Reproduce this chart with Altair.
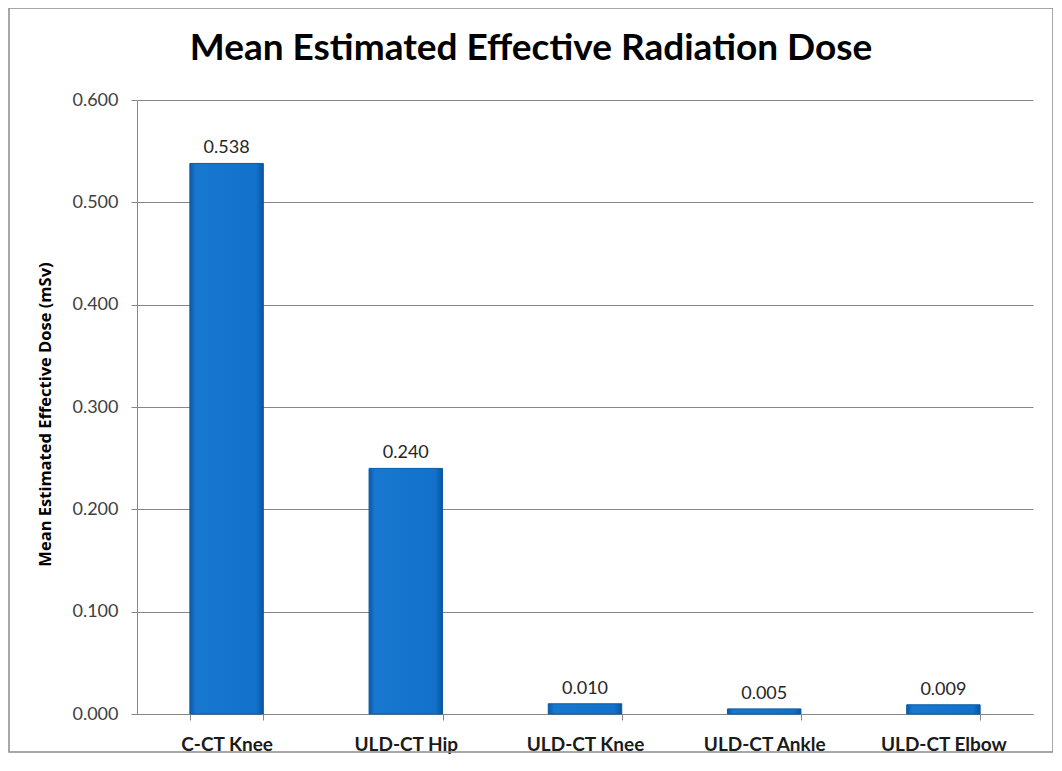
import altair as alt
import pandas as pd

categories = ["C-CT Knee", "ULD-CT Hip", "ULD-CT Knee", "ULD-CT Ankle", "ULD-CT Elbow"]
values = [0.538, 0.240, 0.010, 0.005, 0.009]
y_ticks = [0.0, 0.1, 0.2, 0.3, 0.4, 0.5, 0.6]
title_text = "Mean Estimated Effective Radiation Dose"

df = pd.DataFrame({"cat": categories, "val": values})

FONT = "Lato"

x_enc = alt.X(
    "cat:N",
    sort=categories,
    title=None,
    scale=alt.Scale(paddingInner=0.59, paddingOuter=0.295),
    axis=alt.Axis(
        labelAngle=0,
        labelFont=FONT,
        labelFontSize=19,
        labelFontWeight="bold",
        labelColor="#1a1a1a",
        labelPadding=15,
        tickBand="extent",
        tickSize=6,
        tickColor="#868686",
        domainColor="#868686",
        grid=False,
    ),
)

y_enc = alt.Y(
    "val:Q",
    title="Mean Estimated Effective Dose (mSv)",
    scale=alt.Scale(domain=[0, 0.6], nice=False),
    axis=alt.Axis(
        values=y_ticks,
        format=".3f",
        labelFont=FONT,
        labelFontSize=18,
        labelColor="#404040",
        labelPadding=13,
        tickSize=6,
        tickColor="#868686",
        domainColor="#868686",
        gridColor="#868686",
        gridWidth=1,
        titleFont="Open Sans",
        titleFontSize=16.5,
        titleFontWeight="bold",
        titleColor="#000000",
        titleX=-92,
        titleY=314,
        titleAngle=-90,
        titleBaseline="middle",
        titleAlign="center",
    ),
)

grad = alt.Gradient(
    gradient="linear",
    x1=0, x2=1, y1=0, y2=0,
    stops=[
        alt.GradientStop(color="#0a5aa8", offset=0),
        alt.GradientStop(color="#1878d0", offset=0.08),
        alt.GradientStop(color="#1272cb", offset=0.9),
        alt.GradientStop(color="#0a55a0", offset=1),
    ],
)

bars = alt.Chart(df).mark_bar(color=grad, stroke="#0b5aa5", strokeWidth=1).encode(
    x=x_enc, y=y_enc
)

labels = alt.Chart(df).mark_text(
    font=FONT, fontSize=18, color="#262626", dy=-15, baseline="middle"
).encode(
    x=alt.X("cat:N", sort=categories),
    y="val:Q",
    text=alt.Text("val:Q", format=".3f"),
)

one = pd.DataFrame({"t": [title_text]})

frame = alt.Chart(one).mark_rect(
    fill=None, stroke="#8c8c8c", strokeWidth=1.5
).encode(
    x=alt.value(-128), x2=alt.value(916), y=alt.value(-92), y2=alt.value(652)
)

title = alt.Chart(one).mark_text(
    font=FONT, fontSize=37, fontWeight="bold", color="#000000",
    align="center", baseline="alphabetic",
).encode(
    x=alt.value(394), y=alt.value(-40), text="t:N"
)

chart = (
    alt.layer(frame, bars, labels, title)
    .properties(
        width=896,
        height=614,
        padding={"left": 129, "top": 92, "right": 20, "bottom": 40},
        autosize=alt.AutoSizeParams(type="none"),
    )
    .configure_view(stroke=None)
)

chart.save("out.html", embed_options={"renderer": "svg", "actions": False})
